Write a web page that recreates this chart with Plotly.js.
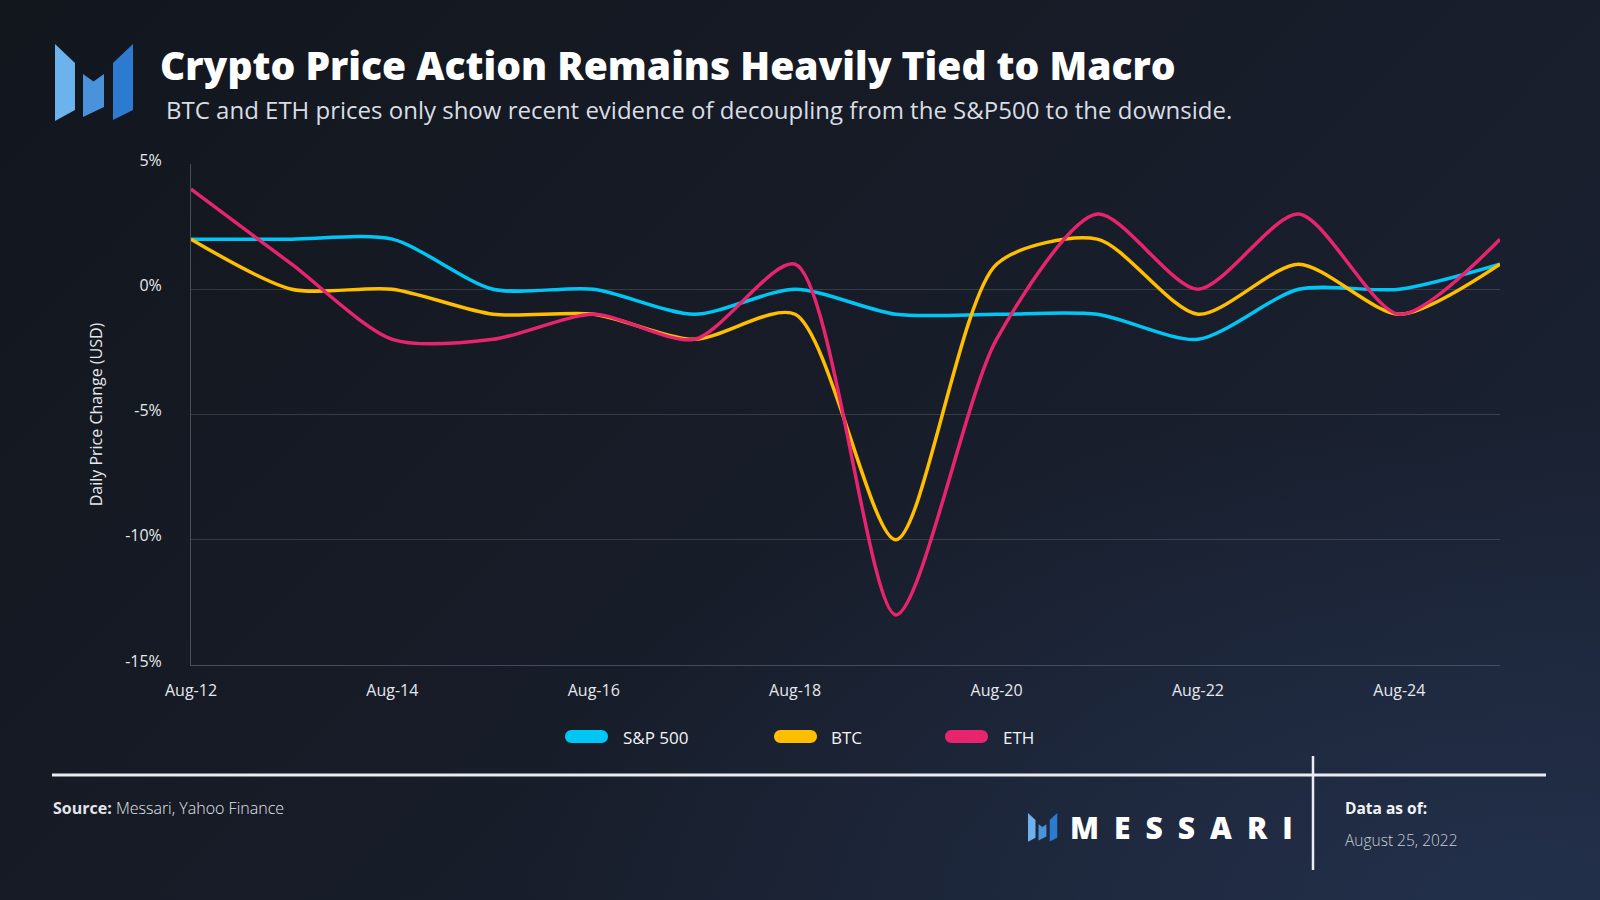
<!DOCTYPE html>
<html>
<head>
<meta charset="utf-8">
<script src="https://cdn.plot.ly/plotly-3.0.1.min.js"></script>
<style>
  html, body { margin: 0; padding: 0; width: 1600px; height: 900px; overflow: hidden; }
  body {
    background:
      radial-gradient(ellipse 90% 80% at 95% 100%, rgba(36,50,78,0.85) 0%, rgba(36,50,78,0) 70%),
      linear-gradient(135deg, #12161d 0%, #161b26 40%, #1b2335 100%);
  }
  #chart { width: 1600px; height: 900px; }
</style>
</head>
<body>
<div id="chart"></div>
<script>
// ---------------- DATA ----------------
const dates = ['2022-08-12','2022-08-13','2022-08-14','2022-08-15','2022-08-16','2022-08-17','2022-08-18',
               '2022-08-19','2022-08-20','2022-08-21','2022-08-22','2022-08-23','2022-08-24','2022-08-25'];
const sp500 = [2, 2, 2, 0, 0, -1, 0, -1, -1, -1, -2, 0, 0, 1];
const btc   = [2, 0, 0, -1, -1, -2, -1, -10, 1, 2, -1, 1, -1, 1];
const eth   = [4, 1, -2, -2, -1, -2, 1, -13, -2, 3, 0, 3, -1, 2];
const seriesNames = ['S&P 500', 'BTC', 'ETH'];
const yTickVals = [-15, -10, -5, 0, 5];
const yTickText = ['-15%', '-10%', '-5%', '0%', '5%'];

// ---------------- STYLE ----------------
const colors = ['#00c6f5', '#ffbe00', '#e8246f'];
const FONT = 'Open Sans, Noto Sans, sans-serif';
const L = 191, R = 1500, T = 164, B = 665;
const W = R - L, H = B - T;
const fx = px => (px - L) / W;
const fy = py => (B - py) / H;
const pt = (x, y) => fx(x).toFixed(5) + ',' + fy(y).toFixed(5);

function poly(points, color) {
  return {
    type: 'path', xref: 'paper', yref: 'paper', layer: 'above',
    path: 'M' + points.map(p => pt(p[0], p[1])).join(' L') + ' Z',
    fillcolor: color, line: { width: 0 }
  };
}
function pill(x0, x1, yc, h, color) {
  const r = h / 2, k = 0.5523 * r, y0 = yc - r, y1 = yc + r;
  const p = 'M' + pt(x0 + r, y0) +
    ' L' + pt(x1 - r, y0) +
    ' C' + pt(x1 - r + k, y0) + ' ' + pt(x1, yc - k) + ' ' + pt(x1, yc) +
    ' C' + pt(x1, yc + k) + ' ' + pt(x1 - r + k, y1) + ' ' + pt(x1 - r, y1) +
    ' L' + pt(x0 + r, y1) +
    ' C' + pt(x0 + r - k, y1) + ' ' + pt(x0, yc + k) + ' ' + pt(x0, yc) +
    ' C' + pt(x0, yc - k) + ' ' + pt(x0 + r - k, y0) + ' ' + pt(x0 + r, y0) + ' Z';
  return { type: 'path', xref: 'paper', yref: 'paper', layer: 'above', path: p,
           fillcolor: color, line: { width: 0 } };
}
function logo(ox, oy, s) {
  const tr = pts => pts.map(p => [ox + (p[0] - 55) * s, oy + (p[1] - 44) * s]);
  return [
    poly(tr([[55,44],[75,63],[75,110],[55,121]]), '#6cb2ec'),
    poly(tr([[83,74],[93.5,81.5],[104,74],[104,107],[83,117]]), '#4a93db'),
    poly(tr([[113,63],[133,44],[133,110],[113,120]]), '#2c7bd1')
  ];
}

const seriesValues = [sp500, btc, eth];
const traces = seriesValues.map((vals, i) => ({
  type: 'scatter', mode: 'lines', name: seriesNames[i],
  x: dates, y: vals,
  line: { color: colors[i], width: 3.5, shape: 'spline', smoothing: 0.75 },
  hoverinfo: 'x+y+name'
}));

const shapes = [];
shapes.push(...logo(55, 44, 1));
shapes.push(...logo(1028, 813, 0.375));
// footer rules
shapes.push({ type: 'line', xref: 'paper', yref: 'paper', x0: fx(52), x1: fx(1546), y0: fy(775), y1: fy(775),
              line: { color: '#e9edf2', width: 3 } });
shapes.push({ type: 'line', xref: 'paper', yref: 'paper', x0: fx(1313), x1: fx(1313), y0: fy(756), y1: fy(870),
              line: { color: '#e9edf2', width: 2.5 } });

const annotations = [];
// legend
const legendPillX = [565, 774, 945];
const legendTextX = [621, 829, 1001];
seriesNames.forEach((nm, i) => {
  shapes.push(pill(legendPillX[i], legendPillX[i] + 43, 736.5, 13, colors[i]));
  annotations.push({ xref: 'paper', yref: 'paper', x: fx(legendTextX[i]), y: fy(737), xanchor: 'left', yanchor: 'middle',
    text: nm, showarrow: false, font: { family: FONT, size: 17, color: '#f2f4f7' } });
});
annotations.push({ xref: 'paper', yref: 'paper', x: fx(164), y: fy(109), xanchor: 'left', yanchor: 'middle',
  text: 'BTC and ETH prices only show recent evidence of decoupling from the S&P500 to the downside.',
  showarrow: false, font: { family: FONT, size: 24, color: '#d9dde4' } });
annotations.push({ xref: 'paper', yref: 'paper', x: fx(51), y: fy(808), xanchor: 'left', yanchor: 'middle',
  text: '<b>Source:</b> Messari, Yahoo Finance',
  showarrow: false, font: { family: FONT, size: 16, weight: 300, color: '#e2e5ea' } });
annotations.push({ xref: 'paper', yref: 'paper', x: fx(1343), y: fy(808), xanchor: 'left', yanchor: 'middle',
  text: '<b>Data as of:</b>',
  showarrow: false, font: { family: FONT, size: 15.5, color: '#f2f4f7' } });
annotations.push({ xref: 'paper', yref: 'paper', x: fx(1343), y: fy(840), xanchor: 'left', yanchor: 'middle',
  text: 'August 25, 2022',
  showarrow: false, font: { family: FONT, size: 15.5, weight: 300, color: '#c9ced6' } });
annotations.push({ xref: 'paper', yref: 'paper', x: fx(1068), y: fy(827), xanchor: 'left', yanchor: 'middle',
  text: 'M\u2002E\u2002S\u2002S\u2002A\u2002R\u2002I',
  showarrow: false, font: { family: FONT, size: 30, weight: 800, color: '#ffffff' } });

const layout = {
  width: 1600, height: 900,
  margin: { l: L, r: 1600 - R, t: T, b: 900 - B, pad: 0 },
  paper_bgcolor: 'rgba(0,0,0,0)', plot_bgcolor: 'rgba(0,0,0,0)',
  showlegend: false,
  font: { family: FONT, color: '#e6e8ec' },
  title: {
    text: 'Crypto Price Action Remains Heavily Tied to Macro',
    font: { family: FONT, size: 39, weight: 800, color: '#ffffff' },
    xref: 'container', yref: 'container', x: 160 / 1600, xanchor: 'left', y: 1 - 66 / 900, yanchor: 'middle'
  },
  xaxis: {
    type: 'date', range: ['2022-08-12', '2022-08-25'],
    tick0: '2022-08-12', dtick: 2 * 86400000, tickformat: '%b-%d',
    showgrid: false, zeroline: false, showline: true, linecolor: '#454c5c', linewidth: 1,
    ticks: '', ticklabelstandoff: 11,
    tickfont: { family: FONT, size: 16, color: '#e6e8ec' }
  },
  yaxis: {
    range: [-15, 5], tickvals: yTickVals, ticktext: yTickText,
    showgrid: true, gridcolor: 'rgba(255,255,255,0.14)', gridwidth: 1,
    zeroline: false, showline: true, linecolor: '#454c5c', linewidth: 1,
    ticks: '', ticklabelstandoff: 25, ticklabelshift: -4,
    tickfont: { family: FONT, size: 16, color: '#e6e8ec' },
    title: { text: 'Daily Price Change (USD)', standoff: 18,
             font: { family: FONT, size: 16, color: '#e6e8ec' } }
  },
  shapes: shapes,
  annotations: annotations
};

Plotly.newPlot('chart', traces, layout, { displayModeBar: false, staticPlot: true });
</script>
</body>
</html>
